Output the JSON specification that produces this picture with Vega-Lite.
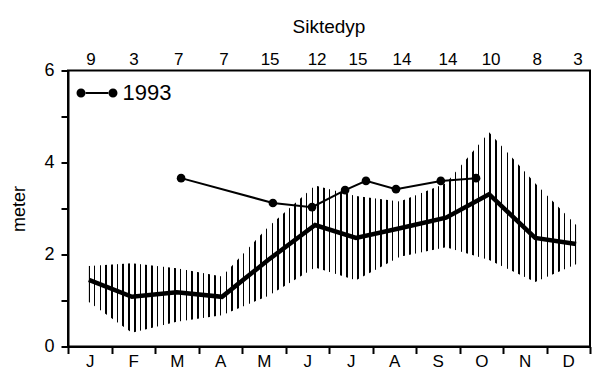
{
  "$schema": "https://vega.github.io/schema/vega-lite/v6.json",
  "width": 522,
  "height": 276,
  "autosize": {"type": "none"},
  "padding": {"left": 68, "top": 70.5, "right": 4, "bottom": 24.5},
  "background": "white",
  "config": {
    "font": "Liberation Sans",
    "view": {"stroke": "black", "strokeWidth": 2}
  },
  "title": {"text": "Siktedyp", "fontSize": 19, "fontWeight": "normal", "color": "black", "font": "Liberation Sans", "offset": 14, "anchor": "middle"},
  "datasets": {
    "monthly": [
      {"m": "J", "t": 0.48, "mean": 1.45, "lo": 0.97, "hi": 1.75, "n": 9},
      {"m": "F", "t": 1.47, "mean": 1.08, "lo": 0.3, "hi": 1.81, "n": 3},
      {"m": "M", "t": 2.5, "mean": 1.18, "lo": 0.54, "hi": 1.7, "n": 7},
      {"m": "A", "t": 3.54, "mean": 1.08, "lo": 0.68, "hi": 1.52, "n": 7},
      {"m": "M", "t": 4.6, "mean": 1.88, "lo": 1.1, "hi": 2.6, "n": 15},
      {"m": "J", "t": 5.68, "mean": 2.64, "lo": 1.72, "hi": 3.5, "n": 12},
      {"m": "J", "t": 6.62, "mean": 2.36, "lo": 1.44, "hi": 3.27, "n": 15},
      {"m": "A", "t": 7.63, "mean": 2.57, "lo": 1.95, "hi": 3.15, "n": 14},
      {"m": "S", "t": 8.69, "mean": 2.8, "lo": 2.16, "hi": 3.55, "n": 14},
      {"m": "O", "t": 9.68, "mean": 3.31, "lo": 1.88, "hi": 4.66, "n": 10},
      {"m": "N", "t": 10.74, "mean": 2.36, "lo": 1.4, "hi": 3.55, "n": 8},
      {"m": "D", "t": 11.68, "mean": 2.23, "lo": 1.79, "hi": 2.64, "n": 3}
    ],
    "y1993": [
      {"t": 2.6, "v": 3.66},
      {"t": 4.71, "v": 3.12},
      {"t": 5.61, "v": 3.03},
      {"t": 6.37, "v": 3.4},
      {"t": 6.85, "v": 3.6},
      {"t": 7.54, "v": 3.42},
      {"t": 8.57, "v": 3.6},
      {"t": 9.38, "v": 3.66}
    ]
  },
  "layer": [
    {
      "data": {"name": "monthly"},
      "mark": {
        "type": "area",
        "fill": {
          "gradient": "linear", "x1": 0, "y1": 0, "x2": 1, "y2": 0,
          "stops": [
            {"offset": 0, "color": "#000"}, {"offset": 0.0016, "color": "#000"}, {"offset": 0.0016, "color": "#fff"},
            {"offset": 0.01016, "color": "#fff"}, {"offset": 0.01016, "color": "#000"}, {"offset": 0.01336, "color": "#000"}, {"offset": 0.01336, "color": "#fff"},
            {"offset": 0.02193, "color": "#fff"}, {"offset": 0.02193, "color": "#000"}, {"offset": 0.02513, "color": "#000"}, {"offset": 0.02513, "color": "#fff"},
            {"offset": 0.03369, "color": "#fff"}, {"offset": 0.03369, "color": "#000"}, {"offset": 0.03689, "color": "#000"}, {"offset": 0.03689, "color": "#fff"},
            {"offset": 0.04546, "color": "#fff"}, {"offset": 0.04546, "color": "#000"}, {"offset": 0.04866, "color": "#000"}, {"offset": 0.04866, "color": "#fff"},
            {"offset": 0.05722, "color": "#fff"}, {"offset": 0.05722, "color": "#000"}, {"offset": 0.06042, "color": "#000"}, {"offset": 0.06042, "color": "#fff"},
            {"offset": 0.06899, "color": "#fff"}, {"offset": 0.06899, "color": "#000"}, {"offset": 0.07219, "color": "#000"}, {"offset": 0.07219, "color": "#fff"},
            {"offset": 0.08075, "color": "#fff"}, {"offset": 0.08075, "color": "#000"}, {"offset": 0.08395, "color": "#000"}, {"offset": 0.08395, "color": "#fff"},
            {"offset": 0.09252, "color": "#fff"}, {"offset": 0.09252, "color": "#000"}, {"offset": 0.09572, "color": "#000"}, {"offset": 0.09572, "color": "#fff"},
            {"offset": 0.10428, "color": "#fff"}, {"offset": 0.10428, "color": "#000"}, {"offset": 0.10748, "color": "#000"}, {"offset": 0.10748, "color": "#fff"},
            {"offset": 0.11605, "color": "#fff"}, {"offset": 0.11605, "color": "#000"}, {"offset": 0.11925, "color": "#000"}, {"offset": 0.11925, "color": "#fff"},
            {"offset": 0.12781, "color": "#fff"}, {"offset": 0.12781, "color": "#000"}, {"offset": 0.13101, "color": "#000"}, {"offset": 0.13101, "color": "#fff"},
            {"offset": 0.13958, "color": "#fff"}, {"offset": 0.13958, "color": "#000"}, {"offset": 0.14278, "color": "#000"}, {"offset": 0.14278, "color": "#fff"},
            {"offset": 0.15134, "color": "#fff"}, {"offset": 0.15134, "color": "#000"}, {"offset": 0.15454, "color": "#000"}, {"offset": 0.15454, "color": "#fff"},
            {"offset": 0.16311, "color": "#fff"}, {"offset": 0.16311, "color": "#000"}, {"offset": 0.16631, "color": "#000"}, {"offset": 0.16631, "color": "#fff"},
            {"offset": 0.17487, "color": "#fff"}, {"offset": 0.17487, "color": "#000"}, {"offset": 0.17807, "color": "#000"}, {"offset": 0.17807, "color": "#fff"},
            {"offset": 0.18664, "color": "#fff"}, {"offset": 0.18664, "color": "#000"}, {"offset": 0.18984, "color": "#000"}, {"offset": 0.18984, "color": "#fff"},
            {"offset": 0.1984, "color": "#fff"}, {"offset": 0.1984, "color": "#000"}, {"offset": 0.2016, "color": "#000"}, {"offset": 0.2016, "color": "#fff"},
            {"offset": 0.21016, "color": "#fff"}, {"offset": 0.21016, "color": "#000"}, {"offset": 0.21336, "color": "#000"}, {"offset": 0.21336, "color": "#fff"},
            {"offset": 0.22193, "color": "#fff"}, {"offset": 0.22193, "color": "#000"}, {"offset": 0.22513, "color": "#000"}, {"offset": 0.22513, "color": "#fff"},
            {"offset": 0.23369, "color": "#fff"}, {"offset": 0.23369, "color": "#000"}, {"offset": 0.23689, "color": "#000"}, {"offset": 0.23689, "color": "#fff"},
            {"offset": 0.24546, "color": "#fff"}, {"offset": 0.24546, "color": "#000"}, {"offset": 0.24866, "color": "#000"}, {"offset": 0.24866, "color": "#fff"},
            {"offset": 0.25722, "color": "#fff"}, {"offset": 0.25722, "color": "#000"}, {"offset": 0.26042, "color": "#000"}, {"offset": 0.26042, "color": "#fff"},
            {"offset": 0.26899, "color": "#fff"}, {"offset": 0.26899, "color": "#000"}, {"offset": 0.27219, "color": "#000"}, {"offset": 0.27219, "color": "#fff"},
            {"offset": 0.28075, "color": "#fff"}, {"offset": 0.28075, "color": "#000"}, {"offset": 0.28395, "color": "#000"}, {"offset": 0.28395, "color": "#fff"},
            {"offset": 0.29252, "color": "#fff"}, {"offset": 0.29252, "color": "#000"}, {"offset": 0.29572, "color": "#000"}, {"offset": 0.29572, "color": "#fff"},
            {"offset": 0.30428, "color": "#fff"}, {"offset": 0.30428, "color": "#000"}, {"offset": 0.30748, "color": "#000"}, {"offset": 0.30748, "color": "#fff"},
            {"offset": 0.31605, "color": "#fff"}, {"offset": 0.31605, "color": "#000"}, {"offset": 0.31925, "color": "#000"}, {"offset": 0.31925, "color": "#fff"},
            {"offset": 0.32781, "color": "#fff"}, {"offset": 0.32781, "color": "#000"}, {"offset": 0.33101, "color": "#000"}, {"offset": 0.33101, "color": "#fff"},
            {"offset": 0.33958, "color": "#fff"}, {"offset": 0.33958, "color": "#000"}, {"offset": 0.34278, "color": "#000"}, {"offset": 0.34278, "color": "#fff"},
            {"offset": 0.35134, "color": "#fff"}, {"offset": 0.35134, "color": "#000"}, {"offset": 0.35454, "color": "#000"}, {"offset": 0.35454, "color": "#fff"},
            {"offset": 0.36311, "color": "#fff"}, {"offset": 0.36311, "color": "#000"}, {"offset": 0.36631, "color": "#000"}, {"offset": 0.36631, "color": "#fff"},
            {"offset": 0.37487, "color": "#fff"}, {"offset": 0.37487, "color": "#000"}, {"offset": 0.37807, "color": "#000"}, {"offset": 0.37807, "color": "#fff"},
            {"offset": 0.38664, "color": "#fff"}, {"offset": 0.38664, "color": "#000"}, {"offset": 0.38984, "color": "#000"}, {"offset": 0.38984, "color": "#fff"},
            {"offset": 0.3984, "color": "#fff"}, {"offset": 0.3984, "color": "#000"}, {"offset": 0.4016, "color": "#000"}, {"offset": 0.4016, "color": "#fff"},
            {"offset": 0.41016, "color": "#fff"}, {"offset": 0.41016, "color": "#000"}, {"offset": 0.41336, "color": "#000"}, {"offset": 0.41336, "color": "#fff"},
            {"offset": 0.42193, "color": "#fff"}, {"offset": 0.42193, "color": "#000"}, {"offset": 0.42513, "color": "#000"}, {"offset": 0.42513, "color": "#fff"},
            {"offset": 0.43369, "color": "#fff"}, {"offset": 0.43369, "color": "#000"}, {"offset": 0.43689, "color": "#000"}, {"offset": 0.43689, "color": "#fff"},
            {"offset": 0.44546, "color": "#fff"}, {"offset": 0.44546, "color": "#000"}, {"offset": 0.44866, "color": "#000"}, {"offset": 0.44866, "color": "#fff"},
            {"offset": 0.45722, "color": "#fff"}, {"offset": 0.45722, "color": "#000"}, {"offset": 0.46042, "color": "#000"}, {"offset": 0.46042, "color": "#fff"},
            {"offset": 0.46899, "color": "#fff"}, {"offset": 0.46899, "color": "#000"}, {"offset": 0.47219, "color": "#000"}, {"offset": 0.47219, "color": "#fff"},
            {"offset": 0.48075, "color": "#fff"}, {"offset": 0.48075, "color": "#000"}, {"offset": 0.48395, "color": "#000"}, {"offset": 0.48395, "color": "#fff"},
            {"offset": 0.49252, "color": "#fff"}, {"offset": 0.49252, "color": "#000"}, {"offset": 0.49572, "color": "#000"}, {"offset": 0.49572, "color": "#fff"},
            {"offset": 0.50428, "color": "#fff"}, {"offset": 0.50428, "color": "#000"}, {"offset": 0.50748, "color": "#000"}, {"offset": 0.50748, "color": "#fff"},
            {"offset": 0.51605, "color": "#fff"}, {"offset": 0.51605, "color": "#000"}, {"offset": 0.51925, "color": "#000"}, {"offset": 0.51925, "color": "#fff"},
            {"offset": 0.52781, "color": "#fff"}, {"offset": 0.52781, "color": "#000"}, {"offset": 0.53101, "color": "#000"}, {"offset": 0.53101, "color": "#fff"},
            {"offset": 0.53958, "color": "#fff"}, {"offset": 0.53958, "color": "#000"}, {"offset": 0.54278, "color": "#000"}, {"offset": 0.54278, "color": "#fff"},
            {"offset": 0.55134, "color": "#fff"}, {"offset": 0.55134, "color": "#000"}, {"offset": 0.55454, "color": "#000"}, {"offset": 0.55454, "color": "#fff"},
            {"offset": 0.56311, "color": "#fff"}, {"offset": 0.56311, "color": "#000"}, {"offset": 0.56631, "color": "#000"}, {"offset": 0.56631, "color": "#fff"},
            {"offset": 0.57487, "color": "#fff"}, {"offset": 0.57487, "color": "#000"}, {"offset": 0.57807, "color": "#000"}, {"offset": 0.57807, "color": "#fff"},
            {"offset": 0.58664, "color": "#fff"}, {"offset": 0.58664, "color": "#000"}, {"offset": 0.58984, "color": "#000"}, {"offset": 0.58984, "color": "#fff"},
            {"offset": 0.5984, "color": "#fff"}, {"offset": 0.5984, "color": "#000"}, {"offset": 0.6016, "color": "#000"}, {"offset": 0.6016, "color": "#fff"},
            {"offset": 0.61016, "color": "#fff"}, {"offset": 0.61016, "color": "#000"}, {"offset": 0.61336, "color": "#000"}, {"offset": 0.61336, "color": "#fff"},
            {"offset": 0.62193, "color": "#fff"}, {"offset": 0.62193, "color": "#000"}, {"offset": 0.62513, "color": "#000"}, {"offset": 0.62513, "color": "#fff"},
            {"offset": 0.63369, "color": "#fff"}, {"offset": 0.63369, "color": "#000"}, {"offset": 0.63689, "color": "#000"}, {"offset": 0.63689, "color": "#fff"},
            {"offset": 0.64546, "color": "#fff"}, {"offset": 0.64546, "color": "#000"}, {"offset": 0.64866, "color": "#000"}, {"offset": 0.64866, "color": "#fff"},
            {"offset": 0.65722, "color": "#fff"}, {"offset": 0.65722, "color": "#000"}, {"offset": 0.66042, "color": "#000"}, {"offset": 0.66042, "color": "#fff"},
            {"offset": 0.66899, "color": "#fff"}, {"offset": 0.66899, "color": "#000"}, {"offset": 0.67219, "color": "#000"}, {"offset": 0.67219, "color": "#fff"},
            {"offset": 0.68075, "color": "#fff"}, {"offset": 0.68075, "color": "#000"}, {"offset": 0.68395, "color": "#000"}, {"offset": 0.68395, "color": "#fff"},
            {"offset": 0.69252, "color": "#fff"}, {"offset": 0.69252, "color": "#000"}, {"offset": 0.69572, "color": "#000"}, {"offset": 0.69572, "color": "#fff"},
            {"offset": 0.70428, "color": "#fff"}, {"offset": 0.70428, "color": "#000"}, {"offset": 0.70748, "color": "#000"}, {"offset": 0.70748, "color": "#fff"},
            {"offset": 0.71605, "color": "#fff"}, {"offset": 0.71605, "color": "#000"}, {"offset": 0.71925, "color": "#000"}, {"offset": 0.71925, "color": "#fff"},
            {"offset": 0.72781, "color": "#fff"}, {"offset": 0.72781, "color": "#000"}, {"offset": 0.73101, "color": "#000"}, {"offset": 0.73101, "color": "#fff"},
            {"offset": 0.73958, "color": "#fff"}, {"offset": 0.73958, "color": "#000"}, {"offset": 0.74278, "color": "#000"}, {"offset": 0.74278, "color": "#fff"},
            {"offset": 0.75134, "color": "#fff"}, {"offset": 0.75134, "color": "#000"}, {"offset": 0.75454, "color": "#000"}, {"offset": 0.75454, "color": "#fff"},
            {"offset": 0.76311, "color": "#fff"}, {"offset": 0.76311, "color": "#000"}, {"offset": 0.76631, "color": "#000"}, {"offset": 0.76631, "color": "#fff"},
            {"offset": 0.77487, "color": "#fff"}, {"offset": 0.77487, "color": "#000"}, {"offset": 0.77807, "color": "#000"}, {"offset": 0.77807, "color": "#fff"},
            {"offset": 0.78664, "color": "#fff"}, {"offset": 0.78664, "color": "#000"}, {"offset": 0.78984, "color": "#000"}, {"offset": 0.78984, "color": "#fff"},
            {"offset": 0.7984, "color": "#fff"}, {"offset": 0.7984, "color": "#000"}, {"offset": 0.8016, "color": "#000"}, {"offset": 0.8016, "color": "#fff"},
            {"offset": 0.81016, "color": "#fff"}, {"offset": 0.81016, "color": "#000"}, {"offset": 0.81336, "color": "#000"}, {"offset": 0.81336, "color": "#fff"},
            {"offset": 0.82193, "color": "#fff"}, {"offset": 0.82193, "color": "#000"}, {"offset": 0.82513, "color": "#000"}, {"offset": 0.82513, "color": "#fff"},
            {"offset": 0.83369, "color": "#fff"}, {"offset": 0.83369, "color": "#000"}, {"offset": 0.83689, "color": "#000"}, {"offset": 0.83689, "color": "#fff"},
            {"offset": 0.84546, "color": "#fff"}, {"offset": 0.84546, "color": "#000"}, {"offset": 0.84866, "color": "#000"}, {"offset": 0.84866, "color": "#fff"},
            {"offset": 0.85722, "color": "#fff"}, {"offset": 0.85722, "color": "#000"}, {"offset": 0.86042, "color": "#000"}, {"offset": 0.86042, "color": "#fff"},
            {"offset": 0.86899, "color": "#fff"}, {"offset": 0.86899, "color": "#000"}, {"offset": 0.87219, "color": "#000"}, {"offset": 0.87219, "color": "#fff"},
            {"offset": 0.88075, "color": "#fff"}, {"offset": 0.88075, "color": "#000"}, {"offset": 0.88395, "color": "#000"}, {"offset": 0.88395, "color": "#fff"},
            {"offset": 0.89252, "color": "#fff"}, {"offset": 0.89252, "color": "#000"}, {"offset": 0.89572, "color": "#000"}, {"offset": 0.89572, "color": "#fff"},
            {"offset": 0.90428, "color": "#fff"}, {"offset": 0.90428, "color": "#000"}, {"offset": 0.90748, "color": "#000"}, {"offset": 0.90748, "color": "#fff"},
            {"offset": 0.91605, "color": "#fff"}, {"offset": 0.91605, "color": "#000"}, {"offset": 0.91925, "color": "#000"}, {"offset": 0.91925, "color": "#fff"},
            {"offset": 0.92781, "color": "#fff"}, {"offset": 0.92781, "color": "#000"}, {"offset": 0.93101, "color": "#000"}, {"offset": 0.93101, "color": "#fff"},
            {"offset": 0.93958, "color": "#fff"}, {"offset": 0.93958, "color": "#000"}, {"offset": 0.94278, "color": "#000"}, {"offset": 0.94278, "color": "#fff"},
            {"offset": 0.95134, "color": "#fff"}, {"offset": 0.95134, "color": "#000"}, {"offset": 0.95454, "color": "#000"}, {"offset": 0.95454, "color": "#fff"},
            {"offset": 0.96311, "color": "#fff"}, {"offset": 0.96311, "color": "#000"}, {"offset": 0.96631, "color": "#000"}, {"offset": 0.96631, "color": "#fff"},
            {"offset": 0.97487, "color": "#fff"}, {"offset": 0.97487, "color": "#000"}, {"offset": 0.97807, "color": "#000"}, {"offset": 0.97807, "color": "#fff"},
            {"offset": 0.98664, "color": "#fff"}, {"offset": 0.98664, "color": "#000"}, {"offset": 0.98984, "color": "#000"}, {"offset": 0.98984, "color": "#fff"},
            {"offset": 0.9984, "color": "#fff"}, {"offset": 0.9984, "color": "#000"}, {"offset": 1, "color": "#000"}
          ]
        }
      },
      "encoding": {
        "x": {
          "field": "t", "type": "quantitative",
          "scale": {"domain": [0, 12], "nice": false, "zero": false},
          "axis": {
            "title": null,
            "values": [0, 1, 2, 3, 4, 5, 6, 7, 8, 9, 10, 11, 12],
            "labelExpr": "['J','F','M','A','M','J','J','A','S','O','N','D',''][datum.value]",
            "labelOffset": 21.75, "labelAlign": "center", "labelFlush": false, "labelOverlap": false,
            "labelFontSize": 17, "labelColor": "black", "labelBaseline": "top", "labelPadding": 0,
            "tickSize": 7, "tickColor": "black", "tickWidth": 2,
            "domainColor": "black", "domainWidth": 2, "grid": false
          }
        },
        "y": {
          "field": "lo", "type": "quantitative",
          "scale": {"domain": [0, 6], "nice": false},
          "axis": {
            "title": "meter", "titleFontSize": 18, "titleFontWeight": "normal", "titleColor": "black", "titlePadding": 15,
            "values": [0, 1, 2, 3, 4, 5, 6],
            "labelExpr": "datum.value % 2 == 0 ? datum.label : ''",
            "labelFontSize": 18, "labelColor": "black", "labelPadding": 7,
            "tickSize": 7, "tickColor": "black", "tickWidth": 2,
            "domainColor": "black", "domainWidth": 2, "grid": false
          }
        },
        "y2": {"field": "hi"}
      }
    },
    {
      "data": {"name": "monthly"},
      "mark": {"type": "line", "color": "black", "strokeWidth": 4.5},
      "encoding": {
        "x": {"field": "t", "type": "quantitative", "title": null},
        "y": {"field": "mean", "type": "quantitative", "title": "meter"}
      }
    },
    {
      "data": {"name": "y1993"},
      "mark": {"type": "line", "color": "black", "strokeWidth": 2},
      "encoding": {
        "x": {"field": "t", "type": "quantitative", "title": null},
        "y": {"field": "v", "type": "quantitative", "title": "meter"}
      }
    },
    {
      "data": {"name": "y1993"},
      "mark": {"type": "point", "filled": true, "size": 75, "opacity": 1},
      "encoding": {
        "x": {"field": "t", "type": "quantitative", "title": null},
        "y": {"field": "v", "type": "quantitative", "title": "meter"},
        "color": {
          "datum": "1993",
          "scale": {"range": ["black"]},
          "legend": {
            "orient": "none", "legendX": 8.5, "legendY": 2, "title": null, "padding": 0,
            "symbolType": "M-1,0 a0.22,0.22 0 1,0 0.44,0 a0.22,0.22 0 1,0 -0.44,0 Z M0.56,0 a0.22,0.22 0 1,0 0.44,0 a0.22,0.22 0 1,0 -0.44,0 Z M-0.58,-0.05 L0.58,-0.05 L0.58,0.05 L-0.58,0.05 Z",
            "symbolSize": 1681, "symbolFillColor": "black", "symbolStrokeWidth": 0,
            "labelFontSize": 22, "labelFont": "Liberation Sans", "labelColor": "black", "labelOffset": 5
          }
        }
      }
    },
    {
      "data": {"name": "monthly"},
      "mark": {"type": "text", "fontSize": 17, "baseline": "alphabetic", "dy": -5.5, "dx": 2, "color": "black"},
      "encoding": {
        "x": {"field": "t", "type": "quantitative", "title": null},
        "y": {"datum": 6, "type": "quantitative", "title": "meter"},
        "text": {"field": "n", "type": "quantitative"}
      }
    }
  ]
}
